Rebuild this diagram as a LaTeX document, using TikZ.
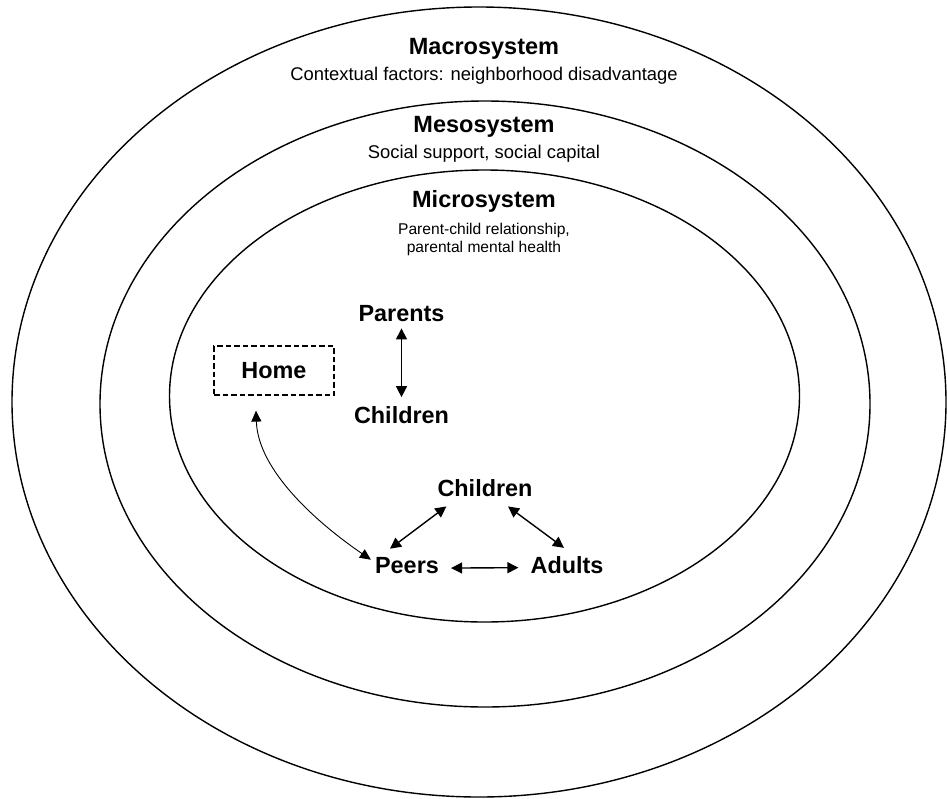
\documentclass[tikz,border=0pt]{standalone}
\usepackage{fontspec}
\setmainfont{Liberation Sans}
\usetikzlibrary{arrows.meta,calc}
\begin{document}
\begin{tikzpicture}[x=1pt,y=-1pt,
  ring/.style={line width=1.4pt},
  ttl/.style={font=\fontsize{23.5}{28}\selectfont\bfseries, inner sep=0pt, anchor=base},
  sub/.style={font=\fontsize{18.4}{22}\selectfont, inner sep=0pt, anchor=base},
  subs/.style={font=\fontsize{15.6}{18.7}\selectfont, inner sep=0pt, anchor=base},
  lbl/.style={font=\fontsize{23.4}{28}\selectfont\bfseries, inner sep=0pt, anchor=base},
  dbl/.style={{Triangle[length=11pt,width=11pt]}-{Triangle[length=11pt,width=11pt]}, line width=1.4pt},
  curvarr/.style={{Triangle[length=11pt,width=10pt]}-{Triangle[length=11pt,width=10pt]}, line width=0.9pt},
  homebox/.style={draw, dash pattern=on 5.5pt off 3pt, line width=1.2pt, minimum width=120pt, minimum height=49pt, inner sep=0pt, font=\fontsize{23.4}{28}\selectfont\bfseries}
]
\useasboundingbox (0,0) rectangle (947,798);
% rings
\draw[ring] (479,402) ellipse [x radius=467pt, y radius=395pt];
\draw[ring] (485,404) ellipse [x radius=385pt, y radius=303pt];
\draw[ring] (484.5,396) ellipse [x radius=315pt, y radius=226pt];
% titles
\node[ttl] (macro) at (484,54) {Macrosystem};
\node[sub] (macrot) at (484,80.7) {Contextual factors: neighborhood disadvantage};
\node[ttl] (meso) at (484,132.7) {Mesosystem};
\node[sub] (mesot) at (484,158) {Social support, social capital};
\node[ttl] (micro) at (484,207) {Microsystem};
\node[subs] (microa) at (484,234) {Parent-child relationship,};
\node[subs] (microb) at (484,252.7) {parental mental health};
% nodes
\node[lbl] (par) at (401.5,321) {Parents};
\node[lbl] (ch1) at (401.5,423) {Children};
\node[homebox] (home) at (274,370.5) {Home};
\node[lbl] (ch2) at (485,496) {Children};
\node[lbl] (peers) at (407,573) {Peers};
\node[lbl] (adults) at (567,573) {Adults};
% connectors
\draw[dbl, shorten <=7pt, shorten >=8.7pt] (par.south) -- (ch1.north);
\draw[curvarr] ($(home.south)+(-18,15)$) .. controls ($(home.south)+(-16,75)$) and ($(peers.north west)+(-58,-34)$) .. ($(peers.north west)+(-4,3)$);
\draw[dbl] ($(peers.north)+(-17,-8)$) -- ($(ch2.south west)+(9,10)$);
\draw[dbl] ($(ch2.south)+(23,10)$) -- ($(adults.north)+(-3,-8)$);
\draw[dbl] ($(peers.east)+(12,3)$) -- ($(adults.west)+(-12,3)$);
\end{tikzpicture}
\end{document}
